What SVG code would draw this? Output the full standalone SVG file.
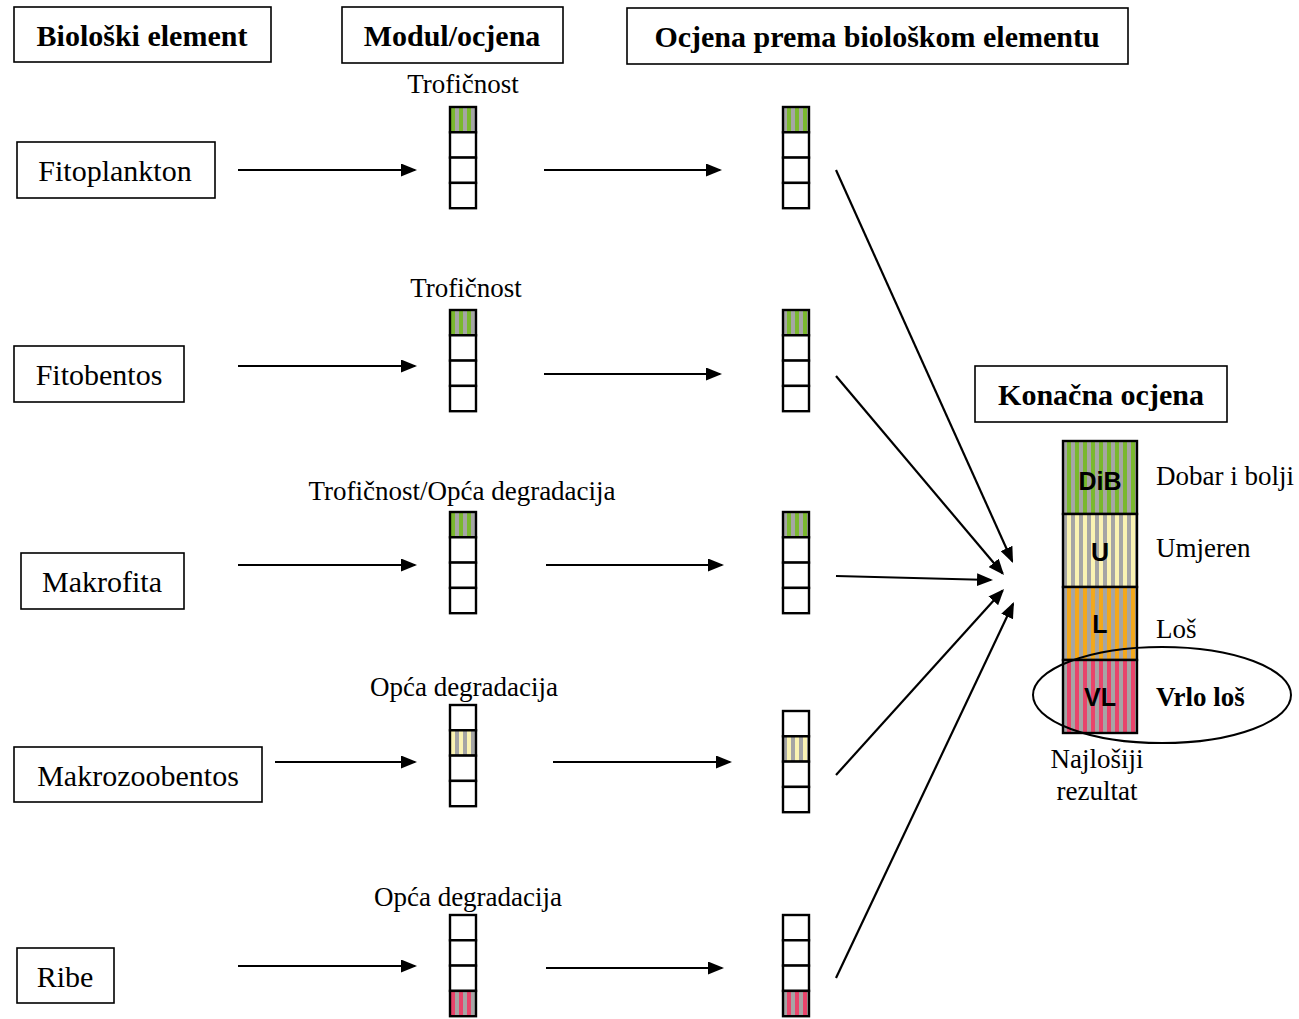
<svg xmlns="http://www.w3.org/2000/svg" width="1299" height="1019" viewBox="0 0 1299 1019">
<style>
.box{fill:#fff;stroke:#000;stroke-width:1.6}
.cell{fill:#fff;stroke:#000;stroke-width:2.4}
.cell.g{fill:url(#pg)}
.cell.y{fill:url(#py)}
.cell.o{fill:url(#po)}
.cell.r{fill:url(#pr)}
.hdr{font-family:"Liberation Serif",serif;font-weight:bold;font-size:30px;fill:#000;text-anchor:middle}
.nd{font-family:"Liberation Serif",serif;font-size:30px;fill:#000;text-anchor:middle}
.lbl{font-family:"Liberation Serif",serif;font-size:27px;fill:#000;text-anchor:middle}
.rl{font-family:"Liberation Serif",serif;font-size:27px;fill:#000}
.cls{font-family:"Liberation Sans",sans-serif;font-weight:bold;font-size:25px;fill:#000;text-anchor:middle}
.arr{stroke:#000;stroke-width:2.2;fill:none;marker-end:url(#ah)}
</style>
<defs>
<marker id="ah" markerUnits="userSpaceOnUse" viewBox="0 0 16 13" markerWidth="16" markerHeight="13" refX="14" refY="6.5" orient="auto">
<path d="M0,0 L16,6.5 L0,13 z" fill="#000"/>
</marker>
<pattern id="pg" patternUnits="userSpaceOnUse" x="7" y="0" width="8" height="10"><rect width="8" height="10" fill="#7ab82e"/><rect width="4" height="10" fill="#a5a5a5"/></pattern>
<pattern id="py" patternUnits="userSpaceOnUse" x="7" y="0" width="8" height="10"><rect width="8" height="10" fill="#faf3b3"/><rect width="4" height="10" fill="#a5a5a5"/></pattern>
<pattern id="po" patternUnits="userSpaceOnUse" x="7" y="0" width="8" height="10"><rect width="8" height="10" fill="#f3a81c"/><rect width="4" height="10" fill="#a5a5a5"/></pattern>
<pattern id="pr" patternUnits="userSpaceOnUse" x="7" y="0" width="8" height="10"><rect width="8" height="10" fill="#e8446b"/><rect width="4" height="10" fill="#a5a5a5"/></pattern>
</defs>
<rect width="1299" height="1019" fill="#fff"/>

<g id="hdr-bioloski">
<rect class="box" x="14" y="7" width="257" height="55"/>
<text class="hdr" x="142" y="46">Biološki element</text>
</g>
<g id="hdr-modul">
<rect class="box" x="342" y="7" width="221" height="56"/>
<text class="hdr" x="452" y="46">Modul/ocjena</text>
</g>
<g id="hdr-ocjena">
<rect class="box" x="627" y="8" width="501" height="56"/>
<text class="hdr" x="877" y="47">Ocjena prema biološkom elementu</text>
</g>
<g id="hdr-konacna">
<rect class="box" x="975" y="366" width="252" height="56"/>
<text class="hdr" x="1101" y="405">Konačna ocjena</text>
</g>

<g id="n-fitoplankton">
<rect class="box" x="17" y="142" width="198" height="56"/>
<text class="nd" x="115" y="181">Fitoplankton</text>
</g>
<g id="n-fitobentos">
<rect class="box" x="14" y="346" width="170" height="56"/>
<text class="nd" x="99" y="385">Fitobentos</text>
</g>
<g id="n-makrofita">
<rect class="box" x="21" y="553" width="163" height="56"/>
<text class="nd" x="102" y="592">Makrofita</text>
</g>
<g id="n-makrozoobentos">
<rect class="box" x="14" y="747" width="248" height="55"/>
<text class="nd" x="138" y="786">Makrozoobentos</text>
</g>
<g id="n-ribe">
<rect class="box" x="17" y="948" width="97" height="55"/>
<text class="nd" x="65" y="987">Ribe</text>
</g>

<g id="m-fitoplankton">
<text class="lbl" x="463" y="93">Trofičnost</text>
<rect class="cell g" x="450" y="107" width="26" height="25.3"/>
<rect class="cell" x="450" y="132.3" width="26" height="25.3"/>
<rect class="cell" x="450" y="157.6" width="26" height="25.3"/>
<rect class="cell" x="450" y="182.9" width="26" height="25.3"/>
</g>
<g id="m-fitobentos">
<text class="lbl" x="466" y="297">Trofičnost</text>
<rect class="cell g" x="450" y="310" width="26" height="25.3"/>
<rect class="cell" x="450" y="335.3" width="26" height="25.3"/>
<rect class="cell" x="450" y="360.6" width="26" height="25.3"/>
<rect class="cell" x="450" y="385.9" width="26" height="25.3"/>
</g>
<g id="m-makrofita">
<text class="lbl" x="462" y="500">Trofičnost/Opća degradacija</text>
<rect class="cell g" x="450" y="512" width="26" height="25.3"/>
<rect class="cell" x="450" y="537.3" width="26" height="25.3"/>
<rect class="cell" x="450" y="562.6" width="26" height="25.3"/>
<rect class="cell" x="450" y="587.9" width="26" height="25.3"/>
</g>
<g id="m-makrozoobentos">
<text class="lbl" x="464" y="696">Opća degradacija</text>
<rect class="cell" x="450" y="705" width="26" height="25.3"/>
<rect class="cell y" x="450" y="730.3" width="26" height="25.3"/>
<rect class="cell" x="450" y="755.6" width="26" height="25.3"/>
<rect class="cell" x="450" y="780.9" width="26" height="25.3"/>
</g>
<g id="m-ribe">
<text class="lbl" x="468" y="906">Opća degradacija</text>
<rect class="cell" x="450" y="915" width="26" height="25.3"/>
<rect class="cell" x="450" y="940.3" width="26" height="25.3"/>
<rect class="cell" x="450" y="965.6" width="26" height="25.3"/>
<rect class="cell r" x="450" y="990.9" width="26" height="25.3"/>
</g>

<g id="o-fitoplankton">
<rect class="cell g" x="783" y="107" width="26" height="25.3"/>
<rect class="cell" x="783" y="132.3" width="26" height="25.3"/>
<rect class="cell" x="783" y="157.6" width="26" height="25.3"/>
<rect class="cell" x="783" y="182.9" width="26" height="25.3"/>
</g>
<g id="o-fitobentos">
<rect class="cell g" x="783" y="310" width="26" height="25.3"/>
<rect class="cell" x="783" y="335.3" width="26" height="25.3"/>
<rect class="cell" x="783" y="360.6" width="26" height="25.3"/>
<rect class="cell" x="783" y="385.9" width="26" height="25.3"/>
</g>
<g id="o-makrofita">
<rect class="cell g" x="783" y="512" width="26" height="25.3"/>
<rect class="cell" x="783" y="537.3" width="26" height="25.3"/>
<rect class="cell" x="783" y="562.6" width="26" height="25.3"/>
<rect class="cell" x="783" y="587.9" width="26" height="25.3"/>
</g>
<g id="o-makrozoobentos">
<rect class="cell" x="783" y="711" width="26" height="25.3"/>
<rect class="cell y" x="783" y="736.3" width="26" height="25.3"/>
<rect class="cell" x="783" y="761.6" width="26" height="25.3"/>
<rect class="cell" x="783" y="786.9" width="26" height="25.3"/>
</g>
<g id="o-ribe">
<rect class="cell" x="783" y="915" width="26" height="25.3"/>
<rect class="cell" x="783" y="940.3" width="26" height="25.3"/>
<rect class="cell" x="783" y="965.6" width="26" height="25.3"/>
<rect class="cell r" x="783" y="990.9" width="26" height="25.3"/>
</g>

<g id="final-scale">
<rect class="cell g" x="1063" y="441" width="74" height="73"/>
<rect class="cell y" x="1063" y="514" width="74" height="73"/>
<rect class="cell o" x="1063" y="587" width="74" height="73"/>
<rect class="cell r" x="1063" y="660" width="74" height="73"/>
<text class="cls" x="1100" y="490">DiB</text>
<text class="cls" x="1100" y="561">U</text>
<text class="cls" x="1100" y="633">L</text>
<text class="cls" x="1100" y="706">VL</text>
<text class="rl" x="1156" y="485">Dobar i bolji</text>
<text class="rl" x="1156" y="557">Umjeren</text>
<text class="rl" x="1156" y="638">Loš</text>
<text class="rl" x="1156" y="706" font-weight="bold">Vrlo loš</text>
<ellipse cx="1162" cy="695" rx="129" ry="48" fill="none" stroke="#000" stroke-width="2"/>
<text class="lbl" x="1097" y="768">Najlošiji</text>
<text class="lbl" x="1097" y="800">rezultat</text>
</g>

<g id="connectors">
<line class="arr" x1="238" y1="170" x2="415" y2="170"/>
<line class="arr" x1="544" y1="170" x2="720" y2="170"/>
<line class="arr" x1="238" y1="366" x2="415" y2="366"/>
<line class="arr" x1="544" y1="374" x2="720" y2="374"/>
<line class="arr" x1="238" y1="565" x2="415" y2="565"/>
<line class="arr" x1="546" y1="565" x2="722" y2="565"/>
<line class="arr" x1="275" y1="762" x2="415" y2="762"/>
<line class="arr" x1="553" y1="762" x2="730" y2="762"/>
<line class="arr" x1="238" y1="966" x2="415" y2="966"/>
<line class="arr" x1="546" y1="968" x2="722" y2="968"/>
<line class="arr" x1="836" y1="170" x2="1012.2" y2="561.2"/>
<line class="arr" x1="836" y1="376" x2="1002.7" y2="573.5"/>
<line class="arr" x1="836" y1="576" x2="991" y2="580"/>
<line class="arr" x1="836" y1="775" x2="1002.7" y2="590.5"/>
<line class="arr" x1="836" y1="978" x2="1013.1" y2="603.8"/>
</g>
</svg>
